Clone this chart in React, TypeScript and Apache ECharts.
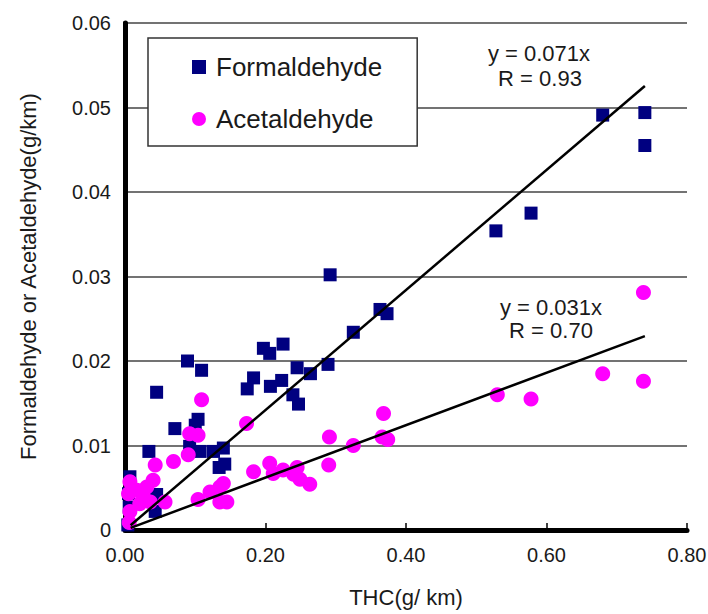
import React, { useEffect, useRef } from "react";
import * as echarts from "echarts";

// THC emission (g/km) vs aldehyde emission (g/km)
const formaldehyde: [number, number][] = [
  [0.74, 0.0494], [0.74, 0.0455], [0.68, 0.0491], [0.578, 0.0375], [0.528, 0.0354],
  [0.363, 0.0261], [0.373, 0.0256], [0.325, 0.0234], [0.292, 0.0302], [0.289, 0.0196],
  [0.264, 0.0185], [0.245, 0.0192], [0.247, 0.0149], [0.239, 0.016], [0.225, 0.022],
  [0.206, 0.0209], [0.197, 0.0215], [0.223, 0.0177], [0.207, 0.017], [0.183, 0.018],
  [0.174, 0.0167], [0.089, 0.02], [0.109, 0.0189], [0.071, 0.012], [0.045, 0.0163],
  [0.104, 0.0131], [0.1, 0.0124], [0.107, 0.0093], [0.126, 0.0093], [0.14, 0.0097],
  [0.092, 0.0099], [0.034, 0.0093], [0.134, 0.0074], [0.142, 0.0078],
  [0.007, 0.0063], [0.005, 0.0043], [0.006, 0.0027], [0.004, 0.0006], [0.045, 0.0042], [0.043, 0.0022],
];

const acetaldehyde: [number, number][] = [
  [0.738, 0.0281], [0.738, 0.0176], [0.68, 0.0185], [0.578, 0.0155], [0.53, 0.016],
  [0.368, 0.0138], [0.366, 0.011], [0.374, 0.0107], [0.325, 0.01], [0.291, 0.011],
  [0.29, 0.0077], [0.263, 0.0054], [0.249, 0.006], [0.24, 0.0066], [0.245, 0.0074],
  [0.225, 0.0071], [0.211, 0.0067], [0.206, 0.0079], [0.183, 0.0069],
  [0.173, 0.0126], [0.109, 0.0154], [0.092, 0.0114], [0.104, 0.0112], [0.09, 0.0089],
  [0.069, 0.0081], [0.043, 0.0077], [0.14, 0.0055], [0.135, 0.0051], [0.121, 0.0045],
  [0.104, 0.0036], [0.135, 0.0033], [0.145, 0.0033],
  [0.04, 0.0059], [0.031, 0.0051], [0.017, 0.0047], [0.005, 0.0043], [0.026, 0.0039],
  [0.036, 0.0033], [0.021, 0.0031], [0.057, 0.0033], [0.007, 0.0057], [0.007, 0.0022], [0.006, 0.0009],
];

// regression through the origin
const formaldehydeSlope = 0.071;
const formaldehydeR = 0.93;
const acetaldehydeSlope = 0.031;
const acetaldehydeR = 0.7;
const fitXRange = [0.008, 0.74];

const xMin = 0;
const xMax = 0.8;
const xStep = 0.2;
const yMin = 0;
const yMax = 0.06;
const yStep = 0.01;

const FONT = "'Liberation Sans', Arial, Helvetica, sans-serif";
const TEXT = "#1a1a1a";

const squareIcon = "path://M0,0H10V10H0Z";
const circleIcon = "path://M5,0A5,5 0 1,1 5,10A5,5 0 1,1 5,0Z";

export default function App() {
  const ref = useRef<HTMLDivElement>(null);

  useEffect(() => {
    if (!ref.current) return;
    const chart = echarts.init(ref.current, undefined, { renderer: "svg" });

    const fitLine = (slope: number) => fitXRange.map((x) => [x, slope * x]);

    const annotation = (text: string, x: number, y: number) => ({
      type: "text",
      x,
      y,
      style: {
        text,
        font: `22px ${FONT}`,
        fill: TEXT,
        align: "center",
        verticalAlign: "middle",
      },
    });

    chart.setOption({
      animation: false,
      backgroundColor: "#ffffff",
      textStyle: { fontFamily: FONT },
      grid: {
        left: 125,
        right: 21,
        top: 23,
        bottom: 84,
        containLabel: false,
        outerBoundsMode: "none",
      },
      legend: {
        orient: "vertical",
        left: 148,
        top: 38,
        padding: [16, 35, 14, 44],
        itemGap: 26,
        itemWidth: 24,
        itemHeight: 14,
        symbolKeepAspect: true,
        borderColor: "#333",
        borderWidth: 1.5,
        borderRadius: 0,
        backgroundColor: "#fff",
        textStyle: { fontSize: 26, color: TEXT, fontFamily: FONT, lineHeight: 24 },
        data: [
          { name: "Formaldehyde", icon: squareIcon },
          { name: "Acetaldehyde", icon: circleIcon },
        ],
      },
      xAxis: [
        {
          type: "value",
          min: xMin,
          max: xMax,
          interval: xStep,
          name: "THC(g/ km)",
          nameLocation: "middle",
          nameGap: 56,
          nameTextStyle: { fontSize: 22, color: TEXT, fontFamily: FONT },
          axisLine: { show: true, lineStyle: { color: "#000", width: 5 } },
          axisTick: { show: true, inside: true, length: 7, lineStyle: { color: "#000", width: 1.5 } },
          axisLabel: {
            fontSize: 20,
            color: TEXT,
            margin: 15,
            fontFamily: FONT,
            formatter: (v: number) => v.toFixed(2),
          },
          splitLine: { show: false },
        },
        {
          type: "value",
          position: "top",
          min: xMin,
          max: xMax,
          interval: xStep,
          axisLine: { show: true, lineStyle: { color: "#000", width: 2.5 } },
          axisTick: { show: false },
          axisLabel: { show: false },
          splitLine: { show: false },
        },
      ],
      yAxis: [
        {
          type: "value",
          min: yMin,
          max: yMax,
          interval: yStep,
          name: "Formaldehyde or Acetaldehyde(g/km)",
          nameLocation: "middle",
          nameGap: 86,
          nameTextStyle: { fontSize: 22, color: TEXT, fontFamily: FONT },
          axisLine: { show: true, lineStyle: { color: "#000", width: 4 } },
          axisTick: { show: false },
          axisLabel: {
            fontSize: 20,
            color: TEXT,
            margin: 14,
            fontFamily: FONT,
            formatter: (v: number) => (v === 0 ? "0" : v.toFixed(2)),
          },
          splitLine: { show: true, lineStyle: { color: "#444", width: 1.5 } },
        },
        {
          type: "value",
          position: "right",
          min: yMin,
          max: yMax,
          interval: yStep,
          axisLine: { show: true, lineStyle: { color: "#000", width: 5 } },
          axisTick: { show: false },
          axisLabel: { show: false },
          splitLine: { show: false },
        },
      ],
      series: [
        {
          name: "Formaldehyde",
          type: "scatter",
          data: formaldehyde,
          symbol: "rect",
          symbolSize: 13,
          itemStyle: { color: "#000080", opacity: 1 },
          z: 3,
        },
        {
          name: "Acetaldehyde",
          type: "scatter",
          data: acetaldehyde,
          symbol: "circle",
          symbolSize: 15,
          itemStyle: { color: "#ff00ff", opacity: 1 },
          z: 4,
        },
        {
          name: "formaldehyde fit",
          type: "line",
          data: fitLine(formaldehydeSlope),
          showSymbol: false,
          symbol: "none",
          lineStyle: { color: "#000", width: 2.5 },
          z: 5,
        },
        {
          name: "acetaldehyde fit",
          type: "line",
          data: fitLine(acetaldehydeSlope),
          showSymbol: false,
          symbol: "none",
          lineStyle: { color: "#000", width: 2.5 },
          z: 5,
        },
      ],
      graphic: [
        annotation(`y = ${formaldehydeSlope}x`, 539, 53),
        annotation(`R = ${formaldehydeR.toFixed(2)}`, 540, 78),
        annotation(`y = ${acetaldehydeSlope}x`, 551, 307),
        annotation(`R = ${acetaldehydeR.toFixed(2)}`, 551, 330),
      ],
    });

    return () => chart.dispose();
  }, []);

  return (
    <div
      ref={ref}
      style={{ position: "fixed", left: 0, top: 0, width: 708, height: 614 }}
    />
  );
}
